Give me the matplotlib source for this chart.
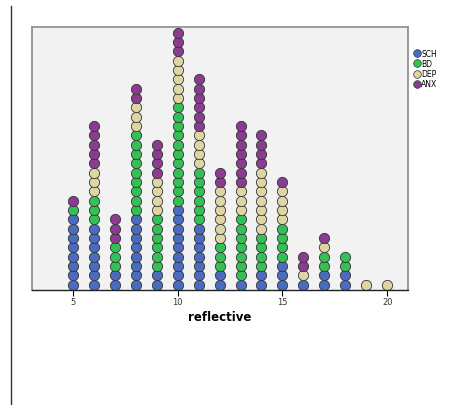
import numpy as np
import matplotlib
matplotlib.use("Agg")
import matplotlib.pyplot as plt
from matplotlib.lines import Line2D

# dot counts per reflective score, stacked bottom-up SCH, BD, DEP, ANX
scores = [5, 6, 7, 8, 9, 10, 11, 12, 13, 14, 15, 16, 17, 18, 19, 20]
sch = [8, 7, 2, 8, 2, 9, 7, 2, 1, 2, 3, 1, 2, 2, 0, 0]
bd = [1, 3, 3, 9, 6, 11, 6, 3, 7, 4, 4, 0, 2, 2, 0, 0]
dep = [0, 3, 0, 3, 4, 5, 4, 6, 3, 7, 4, 1, 1, 0, 1, 1]
anx = [1, 5, 3, 2, 4, 3, 6, 2, 7, 4, 1, 2, 1, 0, 0, 0]

groups = ["SCH", "BD", "DEP", "ANX"]
colors = ["#4a6cc0", "#34c055", "#ddd5a3", "#8b3c90"]

fig = plt.figure(figsize=(4.61, 4.06), dpi=100)
ax = fig.add_axes([0.0694, 0.283, 0.816, 0.648])
ax.set_facecolor("#f2f2f2")

for i, s in enumerate(scores):
    level = 0
    for counts, c in zip([sch, bd, dep, anx], colors):
        for _ in range(counts[i]):
            ax.plot(s, level, "o", ms=7.4, mfc=c, mec="#333333", mew=0.6)
            level += 1

ax.set_xlim(3.05, 21.0)
ax.set_ylim(-0.57, 27.6)
ax.set_yticks([])
ax.set_xticks([5, 10, 15, 20])
ax.tick_params(axis="x", labelsize=6, length=4, width=0.8, pad=1,
               labelcolor="#333333")
ax.set_xlabel("reflective", fontsize=8.5, fontweight="bold", labelpad=3)

for side in ["left", "top", "right"]:
    ax.spines[side].set_color("#8a8a8a")
    ax.spines[side].set_linewidth(1.2)
ax.spines["bottom"].set_color("#222222")
ax.spines["bottom"].set_linewidth(1.0)

handles = [Line2D([], [], marker="o", ls="", ms=5.5, mfc=c, mec="#333333",
                  mew=0.5, label=g) for g, c in zip(groups, colors)]
fig.legend(handles=handles, loc="upper left", bbox_to_anchor=(0.882, 0.89),
           frameon=False, fontsize=5.5, handletextpad=0.0, labelspacing=0.15,
           borderpad=0.2, handlelength=1.2)

# left frame line of the output viewer
fig.add_artist(Line2D([10.5 / 461, 10.5 / 461], [1 - 7 / 406, 1 - 405 / 406],
                      color="#333333", lw=1.0))

fig.savefig("out.png", dpi=100)
